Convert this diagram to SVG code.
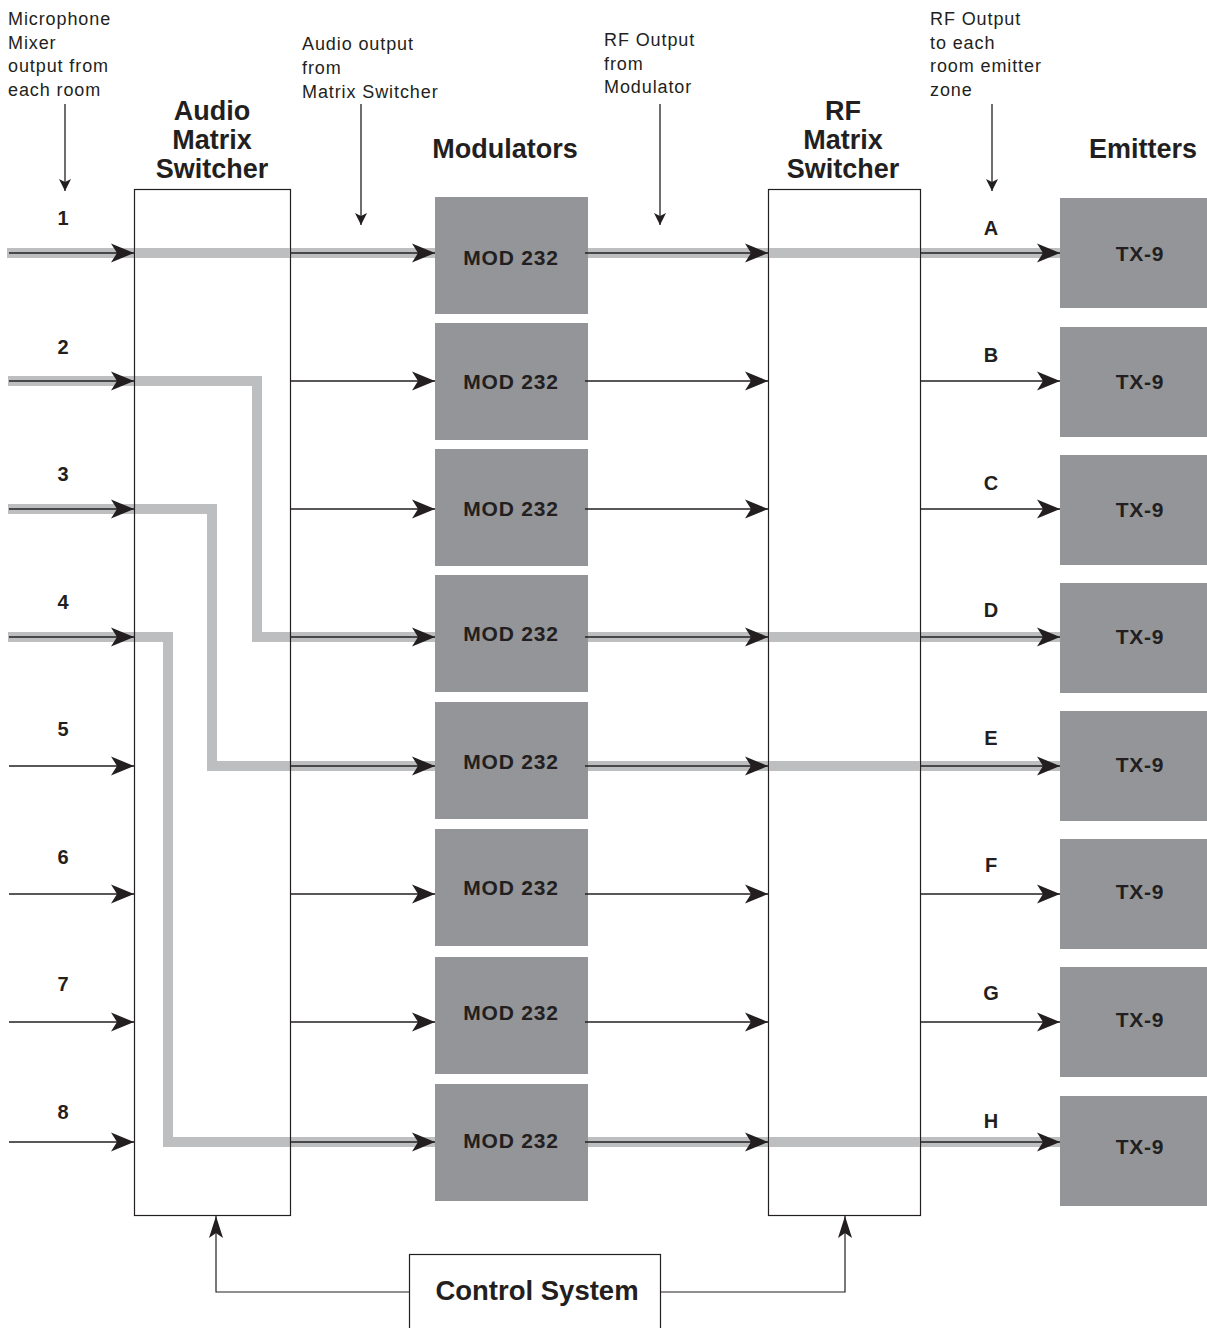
<svg xmlns="http://www.w3.org/2000/svg" width="1207" height="1328" viewBox="0 0 1207 1328">
<style>
.note{font-family:"Liberation Sans",Arial,sans-serif;font-size:18px;letter-spacing:0.9px;fill:#231f20}
.head{font-family:"Liberation Sans",Arial,sans-serif;font-size:27px;font-weight:bold;fill:#231f20;text-anchor:middle}
.lbl{font-family:"Liberation Sans",Arial,sans-serif;font-size:20px;font-weight:bold;fill:#231f20;text-anchor:middle}
.box{font-family:"Liberation Sans",Arial,sans-serif;font-size:21px;font-weight:bold;letter-spacing:0.8px;fill:#231f20;text-anchor:middle}
.mod{fill:#939598}
.sw{fill:none;stroke:#231f20;stroke-width:1.2}
.hl{fill:none;stroke:#bcbec0;stroke-width:10;stroke-linejoin:miter;stroke-linecap:butt}
.ar{fill:none;stroke:#231f20;stroke-width:1.7;marker-end:url(#big)}
.sm{fill:none;stroke:#231f20;stroke-width:1.3;marker-end:url(#small)}
.ct{fill:none;stroke:#231f20;stroke-width:1.2}
.cta{fill:none;stroke:#231f20;stroke-width:1.2;marker-end:url(#ctl)}
</style>
<defs>
<marker id="big" markerUnits="userSpaceOnUse" viewBox="-24 -11 25 22" markerWidth="25" markerHeight="22" refX="0" refY="0" orient="auto">
<path d="M0,0 L-23,-9.5 L-17,0 L-23,9.5 Z" fill="#231f20"/>
</marker>
<marker id="small" markerUnits="userSpaceOnUse" viewBox="-13 -7 14 14" markerWidth="14" markerHeight="14" refX="0" refY="0" orient="auto">
<path d="M0,0 L-12,-6 L-9,0 L-12,6 Z" fill="#231f20"/>
</marker>
<marker id="ctl" markerUnits="userSpaceOnUse" viewBox="-23 -8 24 16" markerWidth="24" markerHeight="16" refX="0" refY="0" orient="auto">
<path d="M0,0 L-22,-7 L-17,0 L-22,7 Z" fill="#231f20"/>
</marker>
</defs>

<g id="annotations">
<text class="note" x="8" y="25">Microphone</text>
<text class="note" x="8" y="49">Mixer</text>
<text class="note" x="8" y="72">output from</text>
<text class="note" x="8" y="96">each room</text>
<text class="note" x="302" y="50">Audio output</text>
<text class="note" x="302" y="74">from</text>
<text class="note" x="302" y="98">Matrix Switcher</text>
<text class="note" x="604" y="46">RF Output</text>
<text class="note" x="604" y="70">from</text>
<text class="note" x="604" y="93">Modulator</text>
<text class="note" x="930" y="25">RF Output</text>
<text class="note" x="930" y="49">to each</text>
<text class="note" x="930" y="72">room emitter</text>
<text class="note" x="930" y="96">zone</text>
<path class="sm" d="M65,104 V191"/>
<path class="sm" d="M361,104 V225"/>
<path class="sm" d="M660,104 V225"/>
<path class="sm" d="M992,104 V191"/>
</g>

<g id="headers">
<text class="head" x="212" y="120">Audio</text>
<text class="head" x="212" y="149">Matrix</text>
<text class="head" x="212" y="178">Switcher</text>
<text class="head" x="505" y="158">Modulators</text>
<text class="head" x="843" y="120">RF</text>
<text class="head" x="843" y="149">Matrix</text>
<text class="head" x="843" y="178">Switcher</text>
<text class="head" x="1143" y="158">Emitters</text>
</g>

<g id="labels">
<text class="lbl" x="63" y="225">1</text>
<text class="lbl" x="63" y="354">2</text>
<text class="lbl" x="63" y="481">3</text>
<text class="lbl" x="63" y="609">4</text>
<text class="lbl" x="63" y="736">5</text>
<text class="lbl" x="63" y="864">6</text>
<text class="lbl" x="63" y="991">7</text>
<text class="lbl" x="63" y="1119">8</text>
<text class="lbl" x="991" y="235">A</text>
<text class="lbl" x="991" y="362">B</text>
<text class="lbl" x="991" y="490">C</text>
<text class="lbl" x="991" y="617">D</text>
<text class="lbl" x="991" y="745">E</text>
<text class="lbl" x="991" y="872">F</text>
<text class="lbl" x="991" y="1000">G</text>
<text class="lbl" x="991" y="1128">H</text>
</g>

<g id="highlight">
<path class="hl" d="M7,253 H1060"/>
<path class="hl" d="M8,381 H257 V637 H435"/>
<path class="hl" d="M588,637 H1060"/>
<path class="hl" d="M8,509 H212 V766 H435"/>
<path class="hl" d="M588,766 H1060"/>
<path class="hl" d="M8,637 H168 V1142 H435"/>
<path class="hl" d="M588,1142 H1060"/>
</g>

<g id="audio-matrix-switcher"><rect class="sw" x="134.5" y="189.5" width="156" height="1026"/></g>
<g id="rf-matrix-switcher"><rect class="sw" x="768.5" y="189.5" width="152" height="1026"/></g>
<path class="hl" d="M135,253 H290 M769,253 H920 M769,637 H920 M769,766 H920 M769,1142 H920"/>

<g id="modulators">
<g id="mod1"><rect class="mod" x="435" y="197" width="153" height="117"/><text class="box" x="511" y="265">MOD 232</text></g>
<g id="mod2"><rect class="mod" x="435" y="323" width="153" height="117"/><text class="box" x="511" y="389">MOD 232</text></g>
<g id="mod3"><rect class="mod" x="435" y="449" width="153" height="117"/><text class="box" x="511" y="516">MOD 232</text></g>
<g id="mod4"><rect class="mod" x="435" y="575" width="153" height="117"/><text class="box" x="511" y="641">MOD 232</text></g>
<g id="mod5"><rect class="mod" x="435" y="702" width="153" height="117"/><text class="box" x="511" y="769">MOD 232</text></g>
<g id="mod6"><rect class="mod" x="435" y="829" width="153" height="117"/><text class="box" x="511" y="895">MOD 232</text></g>
<g id="mod7"><rect class="mod" x="435" y="957" width="153" height="117"/><text class="box" x="511" y="1020">MOD 232</text></g>
<g id="mod8"><rect class="mod" x="435" y="1084" width="153" height="117"/><text class="box" x="511" y="1148">MOD 232</text></g>
</g>

<g id="emitters">
<g id="txA"><rect class="mod" x="1060" y="198" width="147" height="110"/><text class="box" x="1140" y="261">TX-9</text></g>
<g id="txB"><rect class="mod" x="1060" y="327" width="147" height="110"/><text class="box" x="1140" y="389">TX-9</text></g>
<g id="txC"><rect class="mod" x="1060" y="455" width="147" height="110"/><text class="box" x="1140" y="517">TX-9</text></g>
<g id="txD"><rect class="mod" x="1060" y="583" width="147" height="110"/><text class="box" x="1140" y="644">TX-9</text></g>
<g id="txE"><rect class="mod" x="1060" y="711" width="147" height="110"/><text class="box" x="1140" y="772">TX-9</text></g>
<g id="txF"><rect class="mod" x="1060" y="839" width="147" height="110"/><text class="box" x="1140" y="899">TX-9</text></g>
<g id="txG"><rect class="mod" x="1060" y="967" width="147" height="110"/><text class="box" x="1140" y="1027">TX-9</text></g>
<g id="txH"><rect class="mod" x="1060" y="1096" width="147" height="110"/><text class="box" x="1140" y="1154">TX-9</text></g>
</g>

<g id="control-system">
<rect x="409.5" y="1254.5" width="251" height="100" fill="#fff" stroke="#231f20" stroke-width="1.2"/>
<text class="head" x="537" y="1300" style="font-size:27.5px">Control System</text>
</g>

<g id="connectors">
<path class="ar" d="M9,253 H134"/>
<path class="ar" d="M9,381 H134"/>
<path class="ar" d="M9,509 H134"/>
<path class="ar" d="M9,637 H134"/>
<path class="ar" d="M9,766 H134"/>
<path class="ar" d="M9,894 H134"/>
<path class="ar" d="M9,1022 H134"/>
<path class="ar" d="M9,1142 H134"/>

<path class="ar" d="M290,253 H435"/>
<path class="ar" d="M290,381 H435"/>
<path class="ar" d="M290,509 H435"/>
<path class="ar" d="M290,637 H435"/>
<path class="ar" d="M290,766 H435"/>
<path class="ar" d="M290,894 H435"/>
<path class="ar" d="M290,1022 H435"/>
<path class="ar" d="M290,1142 H435"/>

<path class="ar" d="M585,253 H768"/>
<path class="ar" d="M585,381 H768"/>
<path class="ar" d="M585,509 H768"/>
<path class="ar" d="M585,637 H768"/>
<path class="ar" d="M585,766 H768"/>
<path class="ar" d="M585,894 H768"/>
<path class="ar" d="M585,1022 H768"/>
<path class="ar" d="M585,1142 H768"/>

<path class="ar" d="M920,253 H1060"/>
<path class="ar" d="M920,381 H1060"/>
<path class="ar" d="M920,509 H1060"/>
<path class="ar" d="M920,637 H1060"/>
<path class="ar" d="M920,766 H1060"/>
<path class="ar" d="M920,894 H1060"/>
<path class="ar" d="M920,1022 H1060"/>
<path class="ar" d="M920,1142 H1060"/>

<path class="cta" d="M409,1292 H216 V1216"/>
<path class="cta" d="M660,1292 H845 V1216"/>
</g>
</svg>
